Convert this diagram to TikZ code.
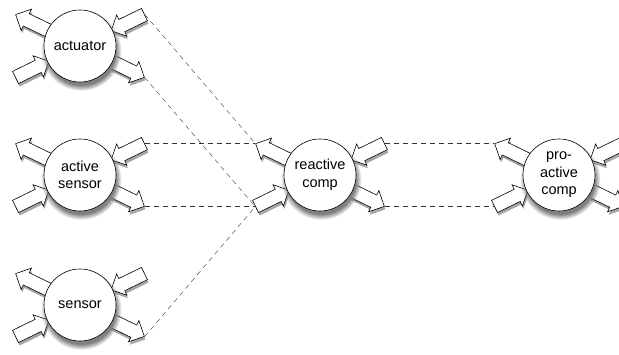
\documentclass[tikz,border=0pt]{standalone}
\usepackage{fontspec}
\usepackage{tikz}
\usetikzlibrary{shapes.arrows,shadows,backgrounds}
\newfontfamily\compfont{Liberation Sans}

\tikzset{
  comp/.style={circle, draw, semithick, fill=white, minimum size=72pt, inner sep=0pt,
    align=center, font=\compfont\fontsize{14.5}{17.5}\selectfont,
    circular drop shadow={shadow xshift=1pt, shadow yshift=-4pt, shadow scale=1.12}},
  blk/.style={single arrow, draw, semithick, fill=white, minimum height=37pt,
    inner xsep=0pt, inner ysep=6.5pt, single arrow head extend=5pt,
    drop shadow={opacity=.35, fill=black, shadow xshift=1pt, shadow yshift=-3pt}},
  link/.style={dash pattern=on 5pt off 4pt, black!80}
}

\begin{document}
\begin{tikzpicture}[x=1pt,y=1pt]
        \useasboundingbox (0,0) rectangle (619,354);

        \node[comp] (act) at (80,308) {actuator};
        \node[comp] (asen) at (80,179) {active\\sensor};
        \node[comp] (sen) at (80,49) {sensor};
        \node[comp] (rcomp) at (320,179) {reactive\\comp};
        \node[comp] (pcomp) at (559,179) {pro-\\active\\comp};

        \begin{scope}[on background layer]
        \foreach \n in {act,asen,sen,rcomp,pcomp} {
            \node[blk, rotate=154, anchor=tip] (\n-ul) at ([shift={(154:72)}]\n) {};
            \node[blk, rotate=206, anchor=tail] (\n-ur) at ([shift={(26:72)}]\n) {};
            \node[blk, rotate=26, anchor=tail] (\n-ll) at ([shift={(206:72)}]\n) {};
            \node[blk, rotate=-26, anchor=tip] (\n-lr) at ([shift={(-26:72)}]\n) {};
        }

        \draw[link] (act-ur.tail) -- (rcomp-ul.tip);
        \draw[link] (act-lr.tip) -- (rcomp-ll.tail);
        \draw[link] (asen-ur.tail) -- (rcomp-ul.tip);
        \draw[link] (asen-lr.tip) -- (rcomp-ll.tail);
        \draw[link] (sen-lr.tip) -- (rcomp-ll.tail);
        \draw[link] (rcomp-ur.tail) -- (pcomp-ul.tip);
        \draw[link] (rcomp-lr.tip) -- (pcomp-ll.tail);
        \end{scope}
\end{tikzpicture}
\end{document}
